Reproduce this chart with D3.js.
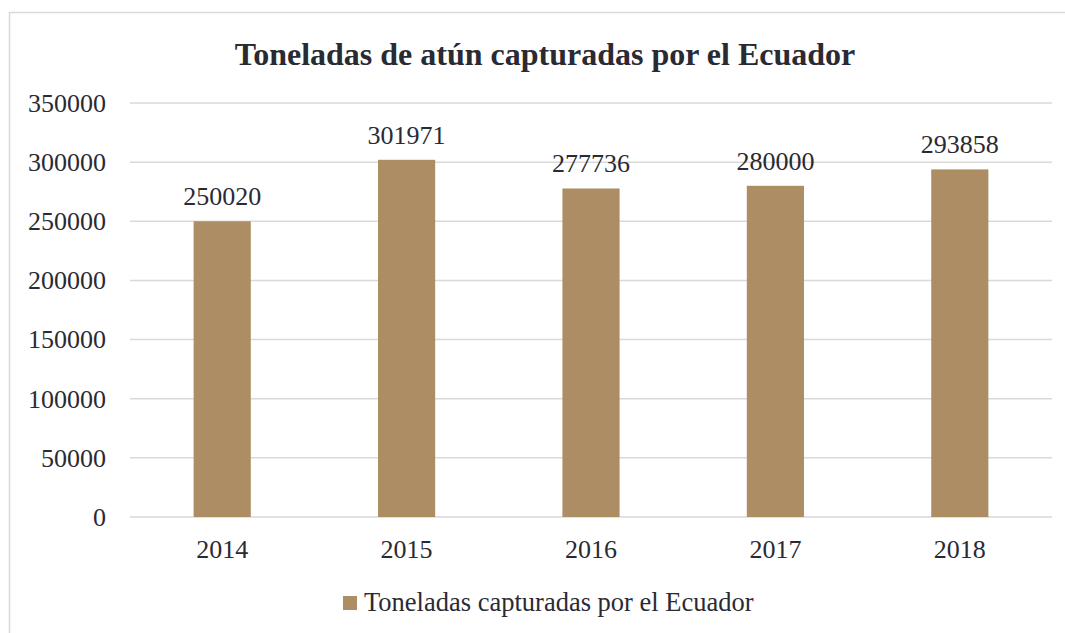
<!DOCTYPE html>
<html><head><meta charset="utf-8">
<script src="https://cdn.jsdelivr.net/npm/d3@7"></script>
<style>body{margin:0;background:#fff;overflow:hidden}svg{display:block}svg text{font-family:"Liberation Serif","Times New Roman",serif}</style>
</head><body>
<script>
const categories = ["2014","2015","2016","2017","2018"];
const values = [250020, 301971, 277736, 280000, 293858];
const yTicks = [0,50000,100000,150000,200000,250000,300000,350000];
const seriesName = "Toneladas capturadas por el Ecuador";
const title = "Toneladas de atún capturadas por el Ecuador";

const W = 1065, H = 633;
const font = '"Liberation Serif","Times New Roman",serif';
const textColor = "#2a2a33";
const barColor = "#ad8d63";
const svg = d3.select("body").append("svg").attr("width", W).attr("height", H);

svg.append("rect").attr("x",9.5).attr("y",12.5).attr("width",1070).attr("height",640)
  .attr("fill","#fff").attr("stroke","#d9d9d9").attr("stroke-width",1.5);

svg.append("text").attr("x",545).attr("y",64.5).attr("text-anchor","middle")
  .style("font-family",font).style("font-weight","bold").style("font-size","32px")
  .attr("fill",textColor).text(title);

const x = d3.scaleBand().domain(categories).range([130,1052]).paddingInner(0.69).paddingOuter(0.345);
const y = d3.scaleLinear().domain([0,350000]).range([517,103]);

const g = svg.append("g");
g.selectAll("line.grid").data(yTicks).join("line").attr("class","grid")
  .attr("x1",130).attr("x2",1052).attr("y1",d=>y(d)).attr("y2",d=>y(d))
  .attr("stroke","#d9d9d9").attr("stroke-width",1.5);

const yAxis = d3.axisLeft(y).tickValues(yTicks).tickSize(0).tickPadding(24).tickFormat(d3.format("d"));
const ya = svg.append("g").attr("transform","translate(130,0)").call(yAxis);
ya.attr("font-family",null).attr("font-size",null);
ya.select(".domain").remove();
ya.selectAll("text").style("font-family",font).style("font-size","26px").attr("fill",textColor);

g.selectAll("rect.bar").data(values).join("rect").attr("class","bar")
  .attr("x",(d,i)=>x(categories[i])).attr("width",x.bandwidth())
  .attr("y",d=>y(d)).attr("height",d=>y(0)-y(d)).attr("fill",barColor);

g.selectAll("text.lbl").data(values).join("text").attr("class","lbl")
  .attr("x",(d,i)=>x(categories[i])+x.bandwidth()/2).attr("y",d=>y(d)-16)
  .attr("text-anchor","middle").style("font-family",font).style("font-size","26px")
  .attr("fill",textColor).text(d=>d);

const xAxis = d3.axisBottom(x).tickSize(0).tickPadding(0);
const xa = svg.append("g").attr("transform","translate(0,517)").call(xAxis);
xa.attr("font-family",null).attr("font-size",null);
xa.select(".domain").remove();
xa.selectAll("text").attr("dy",null).attr("y",41).style("font-family",font).style("font-size","26px").attr("fill",textColor);

const lg = svg.append("g");
lg.append("rect").attr("x",343).attr("y",596).attr("width",14).attr("height",14).attr("fill",barColor);
lg.append("text").attr("x",364).attr("y",611).style("font-family",font).style("font-size","26.5px")
  .attr("fill",textColor).text(seriesName);
</script>
</body></html>
